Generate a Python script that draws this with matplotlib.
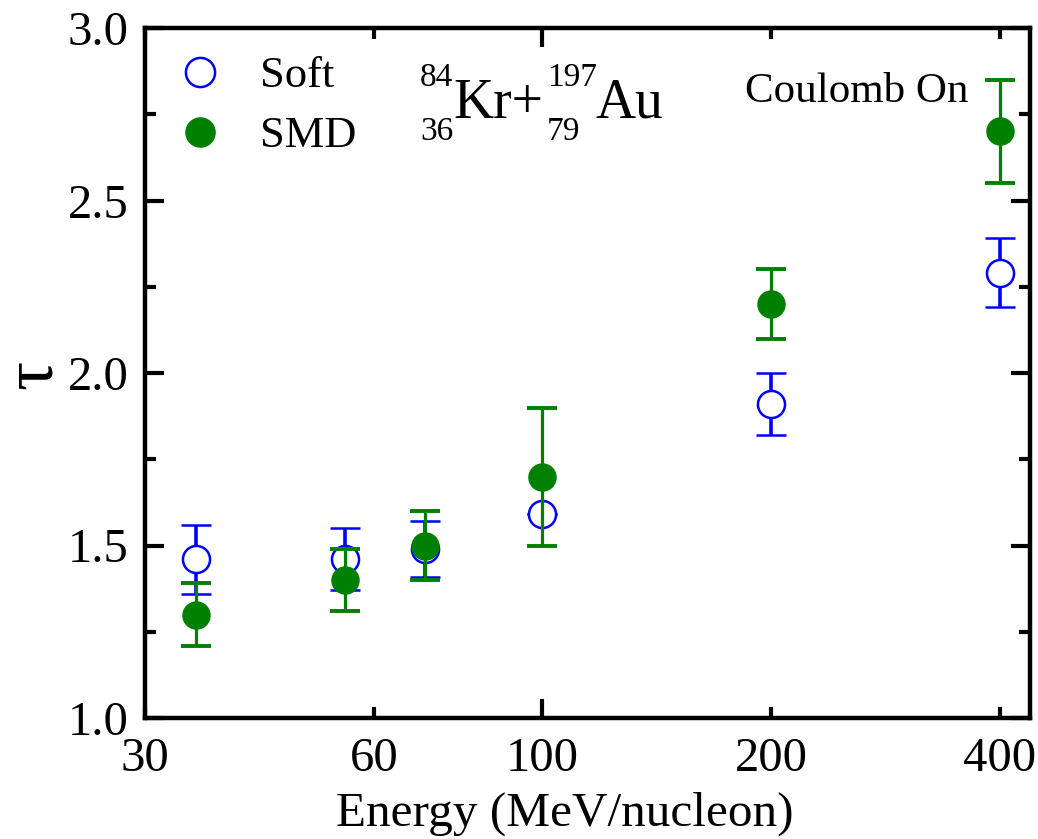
import matplotlib as mpl
mpl.use('Agg')
import matplotlib.pyplot as plt
from matplotlib.lines import Line2D
from matplotlib.ticker import FixedLocator, FixedFormatter, MultipleLocator

energy = [35, 55, 70, 100, 200, 400]
tau_soft = [1.46, 1.46, 1.49, 1.59, 1.91, 2.29]
err_soft = [0.10, 0.09, 0.08, 0.0, 0.09, 0.10]
tau_smd = [1.30, 1.40, 1.50, 1.70, 2.20, 2.70]
err_smd = [0.09, 0.09, 0.10, 0.20, 0.10, 0.15]

xtick_vals = [30, 60, 200, 400]
xtick_labels = ['30', '60', '200', '400']

plt.rcParams['font.family'] = ['Liberation Serif', 'DejaVu Serif']

W, H = 1038, 839
fig = plt.figure(figsize=(W / 100, H / 100), dpi=100)
ax = fig.add_axes([145 / W, 1 - 718 / H, (1030 - 145) / W, (718 - 28) / H])

ax.errorbar(energy, tau_soft, yerr=err_soft, fmt='o', ms=19.5, mfc='white', mec='blue',
            mew=1.8, ecolor='blue', elinewidth=2.6, capsize=11, capthick=3.2,
            zorder=3)
ax.errorbar(energy, tau_smd, yerr=err_smd, fmt='o', ms=19.5, mfc='green', mec='green',
            ecolor='green', elinewidth=2.3, capsize=11, capthick=2.8,
            zorder=4)

ax.set_xscale('log')
ax.set_xlim(30, 438)
ax.set_ylim(1.0, 3.0)

ax.xaxis.set_major_locator(FixedLocator([100]))
ax.xaxis.set_major_formatter(FixedFormatter(['100']))
ax.xaxis.set_minor_locator(FixedLocator(xtick_vals))
ax.xaxis.set_minor_formatter(FixedFormatter(xtick_labels))
ax.yaxis.set_major_locator(MultipleLocator(0.5))
ax.yaxis.set_minor_locator(MultipleLocator(0.25))
ax.yaxis.set_major_formatter(mpl.ticker.FormatStrFormatter('%.1f'))

ax.tick_params(which='both', direction='in', top=True, right=True, width=3,
               labelsize=35)
ax.tick_params(axis='x', which='both', pad=14)
ax.tick_params(axis='y', which='both', pad=12)
ax.tick_params(which='major', length=14)
ax.tick_params(which='minor', length=8)
for s in ax.spines.values():
    s.set_linewidth(3.2)

# legend with marker-only handles
handles = [Line2D([], [], ls='none', marker='o', ms=21, mfc='white', mec='blue', mew=1.8),
           Line2D([], [], ls='none', marker='o', ms=21, mfc='green', mec='green')]
ax.legend(handles, ['Soft', 'SMD'], loc='upper left', frameon=False, fontsize=32,
          handlelength=1.0, handletextpad=0.85, labelspacing=0.45,
          borderaxespad=0.0, borderpad=0.4, bbox_to_anchor=(0.017, 0.985))

def ftext(x, y, s, size, **kw):
    fig.text(x / W, 1 - y / H, s, fontsize=size, **kw)

# axis titles
ftext(565, 826, 'Energy (MeV/nucleon)', 35.5, ha='center', va='baseline')
ftext(33, 374, 'τ', 52, ha='center', va='center', rotation=90)

# reaction label with isotope notation
ftext(420, 86, '84', 24, va='baseline')
ftext(420, 140, '36', 24, va='baseline')
ftext(453, 118, 'Kr+', 40, va='baseline')
ftext(547, 86, '197', 24, va='baseline')
ftext(547, 140, '79', 24, va='baseline')
ftext(595, 118, 'Au', 40, va='baseline')

ftext(968, 102, 'Coulomb On', 31, ha='right', va='baseline')

fig.savefig('out.png', dpi=100)
